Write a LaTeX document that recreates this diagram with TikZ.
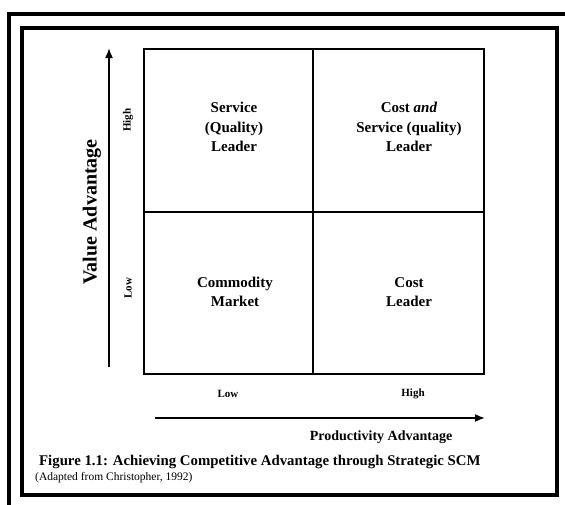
\documentclass[tikz,border=0pt]{standalone}
\usepackage{fontspec}
\setmainfont{Liberation Serif}
\usetikzlibrary{positioning,arrows.meta}
\newcommand{\cellfont}{\bfseries\fontsize{15}{19.5}\selectfont}

\begin{document}
\begin{tikzpicture}[x=1pt,y=-1pt,
    cell/.style={align=center,font=\cellfont,inner sep=0pt},
    lvl/.style={font=\bfseries\fontsize{11}{11}\selectfont,inner sep=0pt}]
            \useasboundingbox (0,0) rectangle (565,504);
            \clip (0,0) rectangle (565,504);
            % frames
            \draw[line width=4pt] (9,14) rectangle (572,520);
            \draw[line width=3.5pt] (22,28) rectangle (557,495);
            % grid
            \draw[line width=2pt] (144,49) rectangle (484,374);
            \draw[line width=2pt] (313,49) -- (313,374);
            \draw[line width=2pt] (144,212) -- (484,212);
            % quadrants
            \node[cell] (svc) at (234,127) {Service\\(Quality)\\Leader};
            \node[cell] (both) at (409,127) {Cost \textit{and}\\Service (quality)\\Leader};
            \node[cell] (comm) at (235,292) {Commodity\\Market};
            \node[cell] (cost) at (409,292) {Cost\\Leader};
            % axes
            \coordinate (va0) at (109,367);
            \coordinate (va1) at (109,48);
            \coordinate (pa0) at (155,418);
            \coordinate (pa1) at (485,418);
            \draw[-{Latex[length=10pt,width=8pt]},line width=1.6pt] (va0) -- (va1);
            \draw[-{Latex[length=10pt,width=8pt]},line width=1.6pt] (pa0) -- (pa1);
            \node[lvl,rotate=90] (vhigh) at (128,120) {High};
            \node[lvl,rotate=90] (vlow) at (128,288) {Low};
            \node[lvl] (plow) at (228,394) {Low};
            \node[lvl] (phigh) at (413,394) {High};
            \node[font=\bfseries\fontsize{20}{20}\selectfont,rotate=90,inner sep=0pt] (vadv) at (92,212) {Value Advantage};
            \node[font=\bfseries\fontsize{14}{14}\selectfont,inner sep=0pt] (padv) at (381,437) {Productivity Advantage};
            % caption
            \node[font=\bfseries\fontsize{14.8}{14.8}\selectfont,anchor=west,inner sep=0pt] (fig) at (39,462) {Figure 1.1: Achieving Competitive Advantage through Strategic SCM};
            \node[font=\fontsize{11.5}{11.5}\selectfont,anchor=west,inner sep=0pt] (src) at (35,478) {(Adapted from Christopher, 1992)};
        \end{tikzpicture}
\end{document}
